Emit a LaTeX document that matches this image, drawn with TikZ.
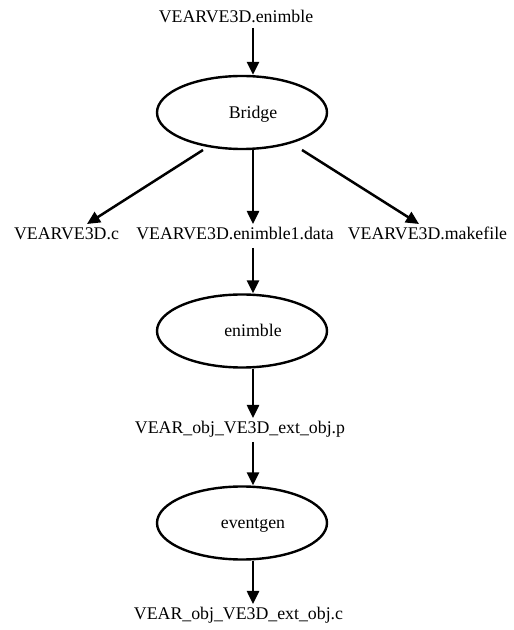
\documentclass[tikz,border=0pt]{standalone}
\usepackage{fontspec}
\setmainfont{Liberation Serif}
\usetikzlibrary{shapes.geometric,arrows.meta}
\tikzset{
  lbl/.style={inner sep=0pt, outer xsep=0pt, outer ysep=4pt, text height=12pt, text depth=4pt, anchor=base, font=\fontsize{17.8}{20}\selectfont},
  proc/.style={draw, ellipse, line width=2.4pt, minimum width=170pt, minimum height=73pt, inner sep=0pt},
  proclbl/.style={inner sep=0pt, anchor=base, font=\fontsize{17.8}{20}\selectfont},
  arr/.style={line width=2.5pt, -{Triangle[length=13pt,width=12pt]}}
}
\begin{document}
\begin{tikzpicture}[x=1pt,y=1pt]
\fill[white] (0,0) rectangle (514,630);
\useasboundingbox (0,0) rectangle (514,630);
\coordinate (axis) at (253,0);
% nodes
\node[lbl, text depth=1pt] (top) at (236,607) {VEARVE3D.enimble};
\node[proc] (Bridge) at (242,517.5) {};
\node[proclbl] (BridgeT) at (253,511) {Bridge};
\node[lbl] (c) at (66.5,390) {VEARVE3D.c};
\node[lbl] (data) at (235,390) {VEARVE3D.enimble1.data};
\node[lbl] (makefile) at (427.5,390) {VEARVE3D.makefile};
\node[proc] (enimble) at (242,299) {};
\node[proclbl] (enimbleT) at (253,293) {enimble};
\node[lbl] (p) at (240,196) {VEAR\_obj\_VE3D\_ext\_obj.p};
\node[proc] (eventgen) at (242,107) {};
\node[proclbl] (eventgenT) at (253,101) {eventgen};
\node[lbl] (cc) at (238.5,10) {VEAR\_obj\_VE3D\_ext\_obj.c};
% connectors
\draw[arr] (top.south -| axis) -- (Bridge.north -| axis);
\draw[arr] ([shift={(-39pt,-37.5pt)}]Bridge.center) -- ([xshift=20.5pt]c.north);
\draw[arr] (Bridge.south -| axis) -- (data.north -| axis);
\draw[arr] ([shift={(60pt,-37.5pt)}]Bridge.center) -- ([xshift=-8.5pt]makefile.north);
\draw[arr] (data.south -| axis) -- (enimble.north -| axis);
\draw[arr] (enimble.south -| axis) -- (p.north -| axis);
\draw[arr] (p.south -| axis) -- (eventgen.north -| axis);
\draw[arr] (eventgen.south -| axis) -- (cc.north -| axis);
\end{tikzpicture}
\end{document}
